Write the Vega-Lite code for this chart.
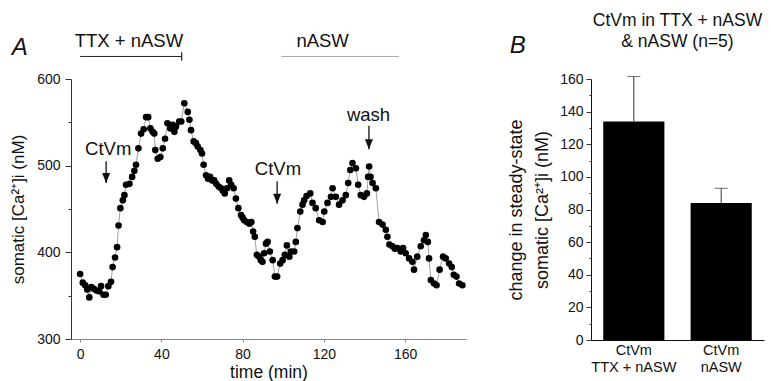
{
  "$schema": "https://vega.github.io/schema/vega-lite/v6.json",
  "background": "white",
  "padding": {"left": 9, "top": 11, "right": 5, "bottom": 2},
  "spacing": 41,
  "config": {
    "font": "Liberation Sans",
    "view": {"stroke": null},
    "axis": {"labelFont": "Liberation Sans", "titleFont": "Liberation Sans", "labelColor": "#111", "titleColor": "#111", "titleFontWeight": "normal", "labelFontSize": 14, "titleFontSize": 17, "grid": false, "domainColor": "#333", "tickColor": "#333", "labelOverlap": false},
    "title": {"font": "Liberation Sans", "color": "#111"}
  },
  "datasets": {
    "series": [
      {"t": 0, "v": 375}, {"t": 1.3, "v": 365}, {"t": 2.5, "v": 362}, {"t": 3.5, "v": 357}, {"t": 4.5, "v": 348},
      {"t": 5.5, "v": 360}, {"t": 6.7, "v": 358}, {"t": 8, "v": 356}, {"t": 9.3, "v": 355}, {"t": 10.3, "v": 361},
      {"t": 11.5, "v": 351}, {"t": 12.6, "v": 351}, {"t": 13.9, "v": 361}, {"t": 15.2, "v": 366}, {"t": 16, "v": 383},
      {"t": 17.2, "v": 394}, {"t": 18.2, "v": 406}, {"t": 18.9, "v": 431}, {"t": 19.8, "v": 451}, {"t": 21, "v": 460},
      {"t": 21.8, "v": 466}, {"t": 22.6, "v": 478}, {"t": 24.3, "v": 479}, {"t": 25.6, "v": 487}, {"t": 26.7, "v": 494},
      {"t": 27.5, "v": 501}, {"t": 28.7, "v": 520}, {"t": 30, "v": 537}, {"t": 31.3, "v": 542}, {"t": 32.5, "v": 556},
      {"t": 33.5, "v": 556}, {"t": 34.6, "v": 543}, {"t": 35.7, "v": 539}, {"t": 36.5, "v": 537}, {"t": 37, "v": 518},
      {"t": 38.2, "v": 508}, {"t": 39.5, "v": 510}, {"t": 40.7, "v": 520}, {"t": 41.8, "v": 531}, {"t": 43, "v": 549},
      {"t": 44.4, "v": 543}, {"t": 45.6, "v": 547}, {"t": 46.4, "v": 539}, {"t": 47.2, "v": 545}, {"t": 48.8, "v": 551},
      {"t": 49.8, "v": 551}, {"t": 51.3, "v": 572}, {"t": 53, "v": 562}, {"t": 53.8, "v": 553}, {"t": 54.6, "v": 541},
      {"t": 55.9, "v": 528}, {"t": 57, "v": 526}, {"t": 57.9, "v": 522}, {"t": 59.2, "v": 518}, {"t": 60, "v": 514},
      {"t": 60.8, "v": 501}, {"t": 62, "v": 489}, {"t": 63, "v": 485}, {"t": 64, "v": 487}, {"t": 65, "v": 483},
      {"t": 66, "v": 483}, {"t": 67, "v": 479}, {"t": 68.2, "v": 476}, {"t": 69.4, "v": 474}, {"t": 70.3, "v": 471},
      {"t": 71.2, "v": 468}, {"t": 72.3, "v": 474}, {"t": 73.4, "v": 483}, {"t": 74.4, "v": 478}, {"t": 75.6, "v": 474},
      {"t": 76.7, "v": 462}, {"t": 77.9, "v": 451}, {"t": 79.2, "v": 443}, {"t": 80, "v": 440}, {"t": 80.8, "v": 437},
      {"t": 82, "v": 435}, {"t": 83.3, "v": 433}, {"t": 84.3, "v": 435}, {"t": 85.2, "v": 424}, {"t": 86, "v": 418},
      {"t": 87, "v": 397}, {"t": 88.2, "v": 395}, {"t": 89, "v": 391}, {"t": 89.8, "v": 389}, {"t": 90.6, "v": 399},
      {"t": 91.5, "v": 410}, {"t": 92.3, "v": 412}, {"t": 93.4, "v": 401}, {"t": 94.8, "v": 391}, {"t": 95.9, "v": 372},
      {"t": 97, "v": 372}, {"t": 98.5, "v": 387}, {"t": 99.7, "v": 391}, {"t": 100.8, "v": 397}, {"t": 101.8, "v": 408},
      {"t": 103, "v": 395}, {"t": 103.8, "v": 401}, {"t": 105.4, "v": 401}, {"t": 106.2, "v": 412}, {"t": 107, "v": 428},
      {"t": 108.4, "v": 447}, {"t": 109.5, "v": 455}, {"t": 110.3, "v": 460}, {"t": 111.5, "v": 465}, {"t": 113.3, "v": 468},
      {"t": 114.4, "v": 457}, {"t": 116, "v": 451}, {"t": 117.7, "v": 437}, {"t": 119.4, "v": 435}, {"t": 120.2, "v": 447},
      {"t": 121.8, "v": 457}, {"t": 123.5, "v": 464}, {"t": 124.3, "v": 474}, {"t": 125.9, "v": 464}, {"t": 127.5, "v": 455},
      {"t": 129.2, "v": 460}, {"t": 130.8, "v": 466}, {"t": 132, "v": 480}, {"t": 133, "v": 495}, {"t": 134.1, "v": 503},
      {"t": 135.8, "v": 497}, {"t": 136.9, "v": 478}, {"t": 138.2, "v": 466}, {"t": 139.8, "v": 464}, {"t": 141.2, "v": 468},
      {"t": 141.8, "v": 487}, {"t": 142.3, "v": 499}, {"t": 143, "v": 487}, {"t": 144, "v": 480}, {"t": 145.6, "v": 474},
      {"t": 147.2, "v": 435}, {"t": 148.9, "v": 432}, {"t": 150.5, "v": 426}, {"t": 151.3, "v": 418}, {"t": 152.3, "v": 409},
      {"t": 153.8, "v": 407}, {"t": 155, "v": 404}, {"t": 156.2, "v": 405}, {"t": 157.9, "v": 401}, {"t": 159, "v": 405},
      {"t": 160.3, "v": 399}, {"t": 162, "v": 393}, {"t": 163.6, "v": 389}, {"t": 164.4, "v": 380}, {"t": 166, "v": 395},
      {"t": 167.7, "v": 407}, {"t": 169.3, "v": 414}, {"t": 170.2, "v": 420}, {"t": 171.2, "v": 412}, {"t": 171.8, "v": 393},
      {"t": 172.7, "v": 368}, {"t": 174.3, "v": 364}, {"t": 175.5, "v": 362}, {"t": 177, "v": 380}, {"t": 178.7, "v": 395},
      {"t": 180, "v": 393}, {"t": 181.7, "v": 387}, {"t": 183, "v": 383}, {"t": 184, "v": 374}, {"t": 185.3, "v": 372},
      {"t": 186.6, "v": 364}, {"t": 188.2, "v": 362}
    ],
    "notes": [
      {"t": 13.8, "v": 519, "label": "CtVm"},
      {"t": 97.4, "v": 496, "label": "CtVm"},
      {"t": 142, "v": 559, "label": "wash"}
    ],
    "arrows": [
      {"t": 12.8, "v1": 505, "v2": 480},
      {"t": 97, "v1": 482, "v2": 456},
      {"t": 142.2, "v1": 546, "v2": 519}
    ],
    "periods": [
      {"label": "TTX + nASW", "tmid": 24, "t1": 0, "t2": 50, "vt": 644, "vl": 626, "kind": "TTX + nASW"},
      {"label": "nASW", "tmid": 119.4, "t1": 99, "t2": 157, "vt": 644, "vl": 626, "kind": "nASW"}
    ],
    "marker": [{"t": 50, "v1": 621, "v2": 631}],
    "bars": [
      {"cond": "CtVm|TTX + nASW", "mean": 134, "upper": 161.5},
      {"cond": "CtVm|nASW", "mean": 84, "upper": 93}
    ]
  },
  "hconcat": [
    {
      "width": 395,
      "height": 260,
      "title": {"text": "A", "anchor": "start", "frame": "bounds", "fontSize": 24, "fontStyle": "italic", "fontWeight": "normal", "offset": -28, "dx": 2},
      "layer": [
        {
          "data": {"name": "series"},
          "mark": {"type": "line", "color": "#777", "strokeWidth": 0.7},
          "encoding": {
            "x": {"field": "t", "type": "quantitative", "scale": {"domain": [-4.5, 190], "nice": false, "zero": false},
              "axis": {"title": "time (min)", "titleFontSize": 17.5, "values": [0, 40, 80, 120, 160], "tickSize": 3, "labelPadding": 5, "titlePadding": 2, "domainColor": "#888", "tickColor": "#888"}},
            "y": {"field": "v", "type": "quantitative", "scale": {"domain": [300, 600], "nice": false, "zero": false},
              "axis": {"title": "somatic [Ca²⁺]i (nM)", "values": [300, 350, 400, 450, 500, 550, 600], "tickCount": 20,
                "labelExpr": "datum.value % 100 === 0 ? datum.label : ''", "labelOverlap": false,
                "tickSize": {"condition": {"test": "datum.value % 100 === 0", "value": 6}, "value": 3},
                "labelPadding": 5, "titlePadding": 9}}
          }
        },
        {
          "data": {"name": "series"},
          "mark": {"type": "circle", "color": "black", "size": 44, "opacity": 1},
          "encoding": {
            "x": {"field": "t", "type": "quantitative"},
            "y": {"field": "v", "type": "quantitative"}
          }
        },
        {
          "data": {"name": "notes"},
          "mark": {"type": "text", "fontSize": 18.5, "baseline": "middle", "align": "center", "color": "#111"},
          "encoding": {
            "x": {"field": "t", "type": "quantitative"},
            "y": {"field": "v", "type": "quantitative"},
            "text": {"field": "label"}
          }
        },
        {
          "data": {"name": "arrows"},
          "mark": {"type": "rule", "color": "#111", "strokeWidth": 1.3},
          "encoding": {
            "x": {"field": "t", "type": "quantitative"},
            "y": {"field": "v1", "type": "quantitative"},
            "y2": {"field": "v2"}
          }
        },
        {
          "data": {"name": "arrows"},
          "mark": {"type": "point", "shape": "M-0.4,-1L0.4,-1L0,0Z", "size": 400, "filled": true, "color": "#111", "opacity": 1},
          "encoding": {
            "x": {"field": "t", "type": "quantitative"},
            "y": {"field": "v2", "type": "quantitative"}
          }
        },
        {
          "data": {"name": "periods"},
          "mark": {"type": "text", "fontSize": 18.5, "baseline": "middle", "align": "center", "color": "#111"},
          "encoding": {
            "x": {"field": "tmid", "type": "quantitative"},
            "y": {"field": "vt", "type": "quantitative"},
            "text": {"field": "label"}
          }
        },
        {
          "data": {"name": "periods"},
          "mark": {"type": "rule", "strokeWidth": 1},
          "encoding": {
            "x": {"field": "t1", "type": "quantitative"},
            "x2": {"field": "t2"},
            "y": {"field": "vl", "type": "quantitative"},
            "color": {"field": "kind", "type": "nominal", "scale": {"domain": ["TTX + nASW", "nASW"], "range": ["#222", "#aaa"]}, "legend": null}
          }
        },
        {
          "data": {"name": "marker"},
          "mark": {"type": "rule", "strokeWidth": 1.2, "color": "#222"},
          "encoding": {
            "x": {"field": "t", "type": "quantitative"},
            "y": {"field": "v1", "type": "quantitative"},
            "y2": {"field": "v2"}
          }
        }
      ]
    },
    {
      "width": 173,
      "height": 261,
      "title": {"text": "B", "anchor": "start", "frame": "bounds", "fontSize": 24, "fontStyle": "italic", "fontWeight": "normal", "offset": -46, "dx": 2},
      "layer": [
        {
          "data": {"name": "bars"},
          "mark": {"type": "bar", "color": "black"},
          "encoding": {
            "x": {"field": "cond", "type": "nominal", "sort": null, "scale": {"paddingInner": 0.3, "paddingOuter": 0.14},
              "axis": {"title": null, "labelAngle": 0, "ticks": false, "labelExpr": "split(datum.label, '|')", "labelFontSize": 14.5, "labelLineHeight": 17, "labelPadding": 3, "domainColor": "#111"}},
            "y": {"field": "mean", "type": "quantitative", "scale": {"domain": [0, 160], "nice": false},
              "axis": {"title": ["change in steady-state", "somatic [Ca²⁺]i (nM)"], "titleFontSize": 18, "titleLineHeight": 26,
                "values": [0, 10, 20, 30, 40, 50, 60, 70, 80, 90, 100, 110, 120, 130, 140, 150, 160], "tickCount": 40,
                "labelExpr": "datum.value % 20 === 0 ? datum.label : ''", "labelOverlap": false,
                "tickSize": {"condition": {"test": "datum.value % 20 === 0", "value": 5}, "value": 2},
                "labelPadding": 3, "titlePadding": 8, "domainColor": "#111"}}
          }
        },
        {
          "data": {"name": "bars"},
          "mark": {"type": "rule", "color": "#333", "strokeWidth": 1},
          "encoding": {
            "x": {"field": "cond", "type": "nominal", "sort": null},
            "y": {"field": "mean", "type": "quantitative"},
            "y2": {"field": "upper"}
          }
        },
        {
          "data": {"name": "bars"},
          "mark": {"type": "tick", "color": "#333", "size": 13, "thickness": 1},
          "encoding": {
            "x": {"field": "cond", "type": "nominal", "sort": null},
            "y": {"field": "upper", "type": "quantitative"}
          }
        },
        {
          "data": {"values": [{"heading": "CtVm in TTX + nASW|& nASW (n=5)"}]},
          "mark": {"type": "text", "fontSize": 17.5, "lineHeight": 21.5, "baseline": "middle", "align": "center", "color": "#111"},
          "encoding": {
            "y": {"datum": 195.6, "type": "quantitative"},
            "text": {"field": "heading"}
          },
          "transform": [{"calculate": "split(datum.heading, '|')", "as": "heading"}]
        }
      ]
    }
  ]
}
